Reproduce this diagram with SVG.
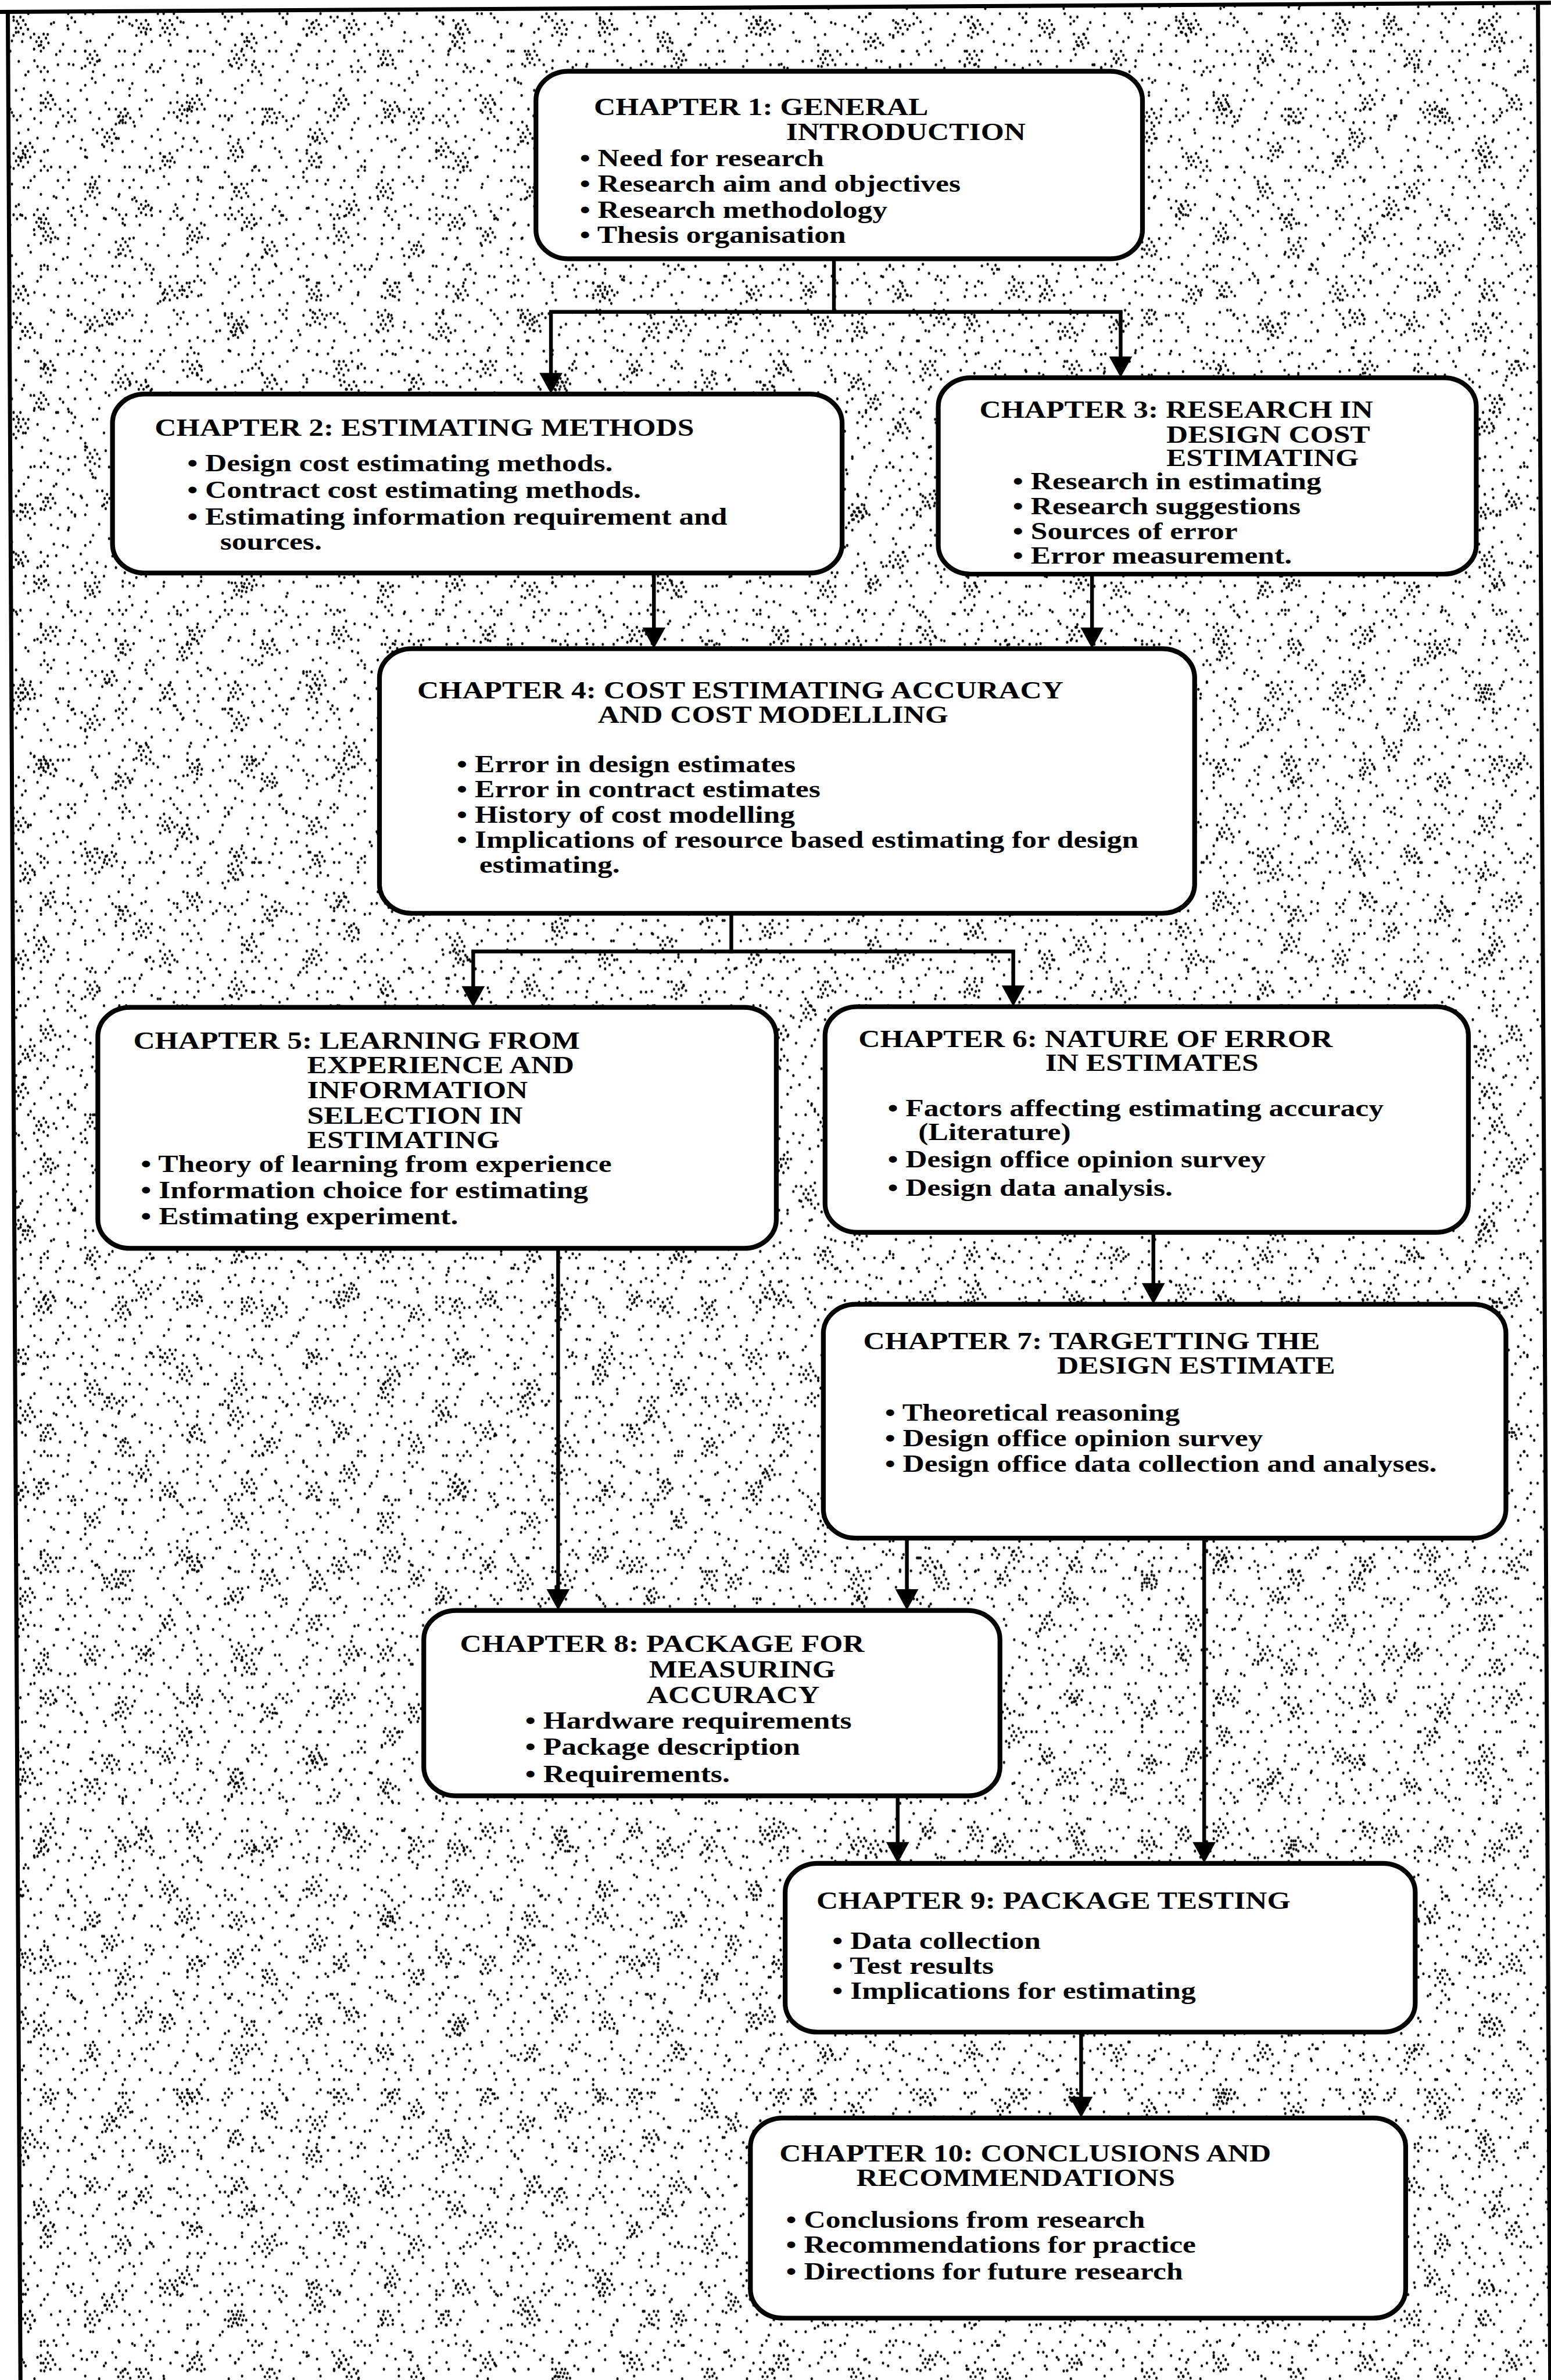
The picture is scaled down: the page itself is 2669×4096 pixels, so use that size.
<svg xmlns="http://www.w3.org/2000/svg" width="2669" height="4096" viewBox="0 0 2669 4096">
  <style>
    .box { fill: #fff; stroke: #000; stroke-width: 14; }
    .frame { fill: none; stroke: #000; stroke-width: 12; }
    .wire { fill: none; stroke: #000; stroke-width: 11; stroke-linecap: square; }
    .arrow { fill: none; stroke: #000; stroke-width: 11; marker-end: url(#head); }
    .t { font-family: "Liberation Serif", "Times New Roman", serif; font-weight: bold; font-size: 72px; fill: #000; }
  </style>
  <defs>
    <marker id="head" markerUnits="userSpaceOnUse" markerWidth="72" markerHeight="72" viewBox="-2 -34 62 68" refX="38" refY="0" orient="auto">
      <path d="M0,-32 L58,0 L0,32 Z" fill="#000"/>
    </marker>
    <!-- one dithered clump of stipple dots -->
    <g id="clump" fill="#000">
      <ellipse cx="0" cy="0" rx="3.5" ry="4.5"/><ellipse cx="14" cy="10" rx="3.5" ry="4.5"/>
      <ellipse cx="28" cy="0" rx="3.5" ry="4.5"/><ellipse cx="7" cy="22" rx="3.5" ry="4.5"/>
      <ellipse cx="21" cy="22" rx="3.5" ry="4.5"/><ellipse cx="35" cy="12" rx="3.5" ry="4.5"/>
      <ellipse cx="14" cy="34" rx="3.5" ry="4.5"/><ellipse cx="42" cy="26" rx="3.5" ry="4.5"/>
      <ellipse cx="0" cy="44" rx="3.5" ry="4.5"/><ellipse cx="28" cy="40" rx="3.5" ry="4.5"/>
    </g>
    <!-- scattered stipple: overlapping tiles of different sizes -->
    <pattern id="dotsA" patternUnits="userSpaceOnUse" width="190" height="170">
      <g fill="#000">
        <ellipse cx="12" cy="18" rx="3.5" ry="4.5"/><ellipse cx="47" cy="95" rx="3.5" ry="4.5"/>
        <ellipse cx="83" cy="40" rx="3.5" ry="4.5"/><ellipse cx="120" cy="132" rx="3.5" ry="4.5"/>
        <ellipse cx="158" cy="66" rx="3.5" ry="4.5"/><ellipse cx="30" cy="150" rx="3.5" ry="4.5"/>
        <ellipse cx="101" cy="8" rx="3.5" ry="4.5"/><ellipse cx="140" cy="101" rx="3.5" ry="4.5"/>
        <ellipse cx="176" cy="150" rx="3.5" ry="4.5"/><ellipse cx="65" cy="122" rx="3.5" ry="4.5"/>
        <ellipse cx="170" cy="20" rx="3.5" ry="4.5"/><ellipse cx="8" cy="75" rx="3.5" ry="4.5"/>
      </g>
    </pattern>
    <pattern id="dotsB" patternUnits="userSpaceOnUse" width="230" height="210">
      <g fill="#000">
        <ellipse cx="20" cy="40" rx="3.5" ry="4.5"/><ellipse cx="55" cy="180" rx="3.5" ry="4.5"/>
        <ellipse cx="90" cy="110" rx="3.5" ry="4.5"/><ellipse cx="130" cy="25" rx="3.5" ry="4.5"/>
        <ellipse cx="165" cy="160" rx="3.5" ry="4.5"/><ellipse cx="200" cy="85" rx="3.5" ry="4.5"/>
        <ellipse cx="35" cy="120" rx="3.5" ry="4.5"/><ellipse cx="110" cy="195" rx="3.5" ry="4.5"/>
        <ellipse cx="150" cy="70" rx="3.5" ry="4.5"/><ellipse cx="215" cy="190" rx="3.5" ry="4.5"/>
        <ellipse cx="75" cy="10" rx="3.5" ry="4.5"/><ellipse cx="185" cy="130" rx="3.5" ry="4.5"/>
        <ellipse cx="10" cy="200" rx="3.5" ry="4.5"/><ellipse cx="120" cy="150" rx="3.5" ry="4.5"/>
      </g>
    </pattern>
    <pattern id="dotsC" patternUnits="userSpaceOnUse" width="310" height="290">
      <g fill="#000">
        <ellipse cx="40" cy="50" rx="3.5" ry="4.5"/><ellipse cx="50" cy="62" rx="3.5" ry="4.5"/><ellipse cx="60" cy="50" rx="3.5" ry="4.5"/>
        <ellipse cx="200" cy="40" rx="3.5" ry="4.5"/><ellipse cx="210" cy="52" rx="3.5" ry="4.5"/><ellipse cx="220" cy="64" rx="3.5" ry="4.5"/>
        <ellipse cx="120" cy="210" rx="3.5" ry="4.5"/><ellipse cx="130" cy="198" rx="3.5" ry="4.5"/><ellipse cx="140" cy="210" rx="3.5" ry="4.5"/>
        <ellipse cx="270" cy="230" rx="3.5" ry="4.5"/><ellipse cx="280" cy="242" rx="3.5" ry="4.5"/>
        <ellipse cx="250" cy="150" rx="3.5" ry="4.5"/><ellipse cx="70" cy="260" rx="3.5" ry="4.5"/>
      </g>
    </pattern>
    <pattern id="dotsD" patternUnits="userSpaceOnUse" width="430" height="390">
      <use href="#clump" x="40" y="60"/><use href="#clump" x="250" y="150"/>
      <use href="#clump" x="120" y="280"/><use href="#clump" x="340" y="320"/>
    </pattern>
    <pattern id="dotsE" patternUnits="userSpaceOnUse" width="610" height="530">
      <use href="#clump" x="100" y="100"/><use href="#clump" x="400" y="60"/>
      <use href="#clump" x="300" y="380"/><use href="#clump" x="520" y="300"/>
      <use href="#clump" x="60" y="420"/>
    </pattern>
  </defs>

  <rect width="2669" height="4096" fill="#fff"/>

  <g transform="scale(0.58669)">
    <!-- stippled ground inside the frame -->
    <g id="ground">
      <path d="M23,34 L4511,8 L4547,6982 L60,6982 Z" fill="url(#dotsA)"/>
      <path d="M23,34 L4511,8 L4547,6982 L60,6982 Z" fill="url(#dotsB)"/>
      <path d="M23,34 L4511,8 L4547,6982 L60,6982 Z" fill="url(#dotsC)"/>
      <path d="M23,34 L4511,8 L4547,6982 L60,6982 Z" fill="url(#dotsD)"/>
      <path d="M23,34 L4511,8 L4547,6982 L60,6982 Z" fill="url(#dotsE)"/>
    </g>
    <g id="frame">
      <path class="frame" d="M0,35 L4549,8"/>
      <path class="frame" d="M23,34 L60,6982"/>
      <path class="frame" d="M4511,8 L4547,6982"/>
    </g>

    <!-- connectors -->
    <g id="connectors">
      <path class="wire" d="M2446,759 V915"/>
      <path class="wire" d="M1616,915 H3287"/>
      <path class="arrow" d="M1616,915 V1134"/>
      <path class="arrow" d="M3287,915 V1086"/>
      <path class="arrow" d="M1918,1681 V1881"/>
      <path class="arrow" d="M3203,1684 V1881"/>
      <path class="wire" d="M2145,2679 V2791"/>
      <path class="wire" d="M1388,2791 H2972"/>
      <path class="arrow" d="M1388,2791 V2933"/>
      <path class="arrow" d="M2972,2791 V2931"/>
      <path class="arrow" d="M3383,3615 V3804"/>
      <path class="arrow" d="M1637,3662 V4702"/>
      <path class="arrow" d="M2660,4512 V4702"/>
      <path class="arrow" d="M3532,4512 V5444"/>
      <path class="arrow" d="M2633,5268 V5444"/>
      <path class="arrow" d="M3171,5961 V6191"/>
    </g>

    <g id="ch1">
      <rect class="box" x="1572" y="209" width="1779" height="550" rx="95" ry="85"/>
      <text class="t" transform="translate(1742,0) scale(1.22,1)">
        <tspan x="0" y="337">CHAPTER 1: GENERAL</tspan>
        <tspan x="462" y="411">INTRODUCTION</tspan>
        <tspan x="-34" y="487">• Need for research</tspan>
        <tspan x="-34" y="563">• Research aim and objectives</tspan>
        <tspan x="-34" y="639">• Research methodology</tspan>
        <tspan x="-34" y="713">• Thesis organisation</tspan>
      </text>
    </g>

    <g id="ch2">
      <rect class="box" x="330" y="1156" width="2140" height="525" rx="95" ry="85"/>
      <text class="t" transform="translate(454,0) scale(1.22,1)">
        <tspan x="0" y="1278">CHAPTER 2: ESTIMATING METHODS</tspan>
        <tspan x="78" y="1382">• Design cost estimating methods.</tspan>
        <tspan x="78" y="1461">• Contract cost estimating methods.</tspan>
        <tspan x="78" y="1539">• Estimating information requirement and</tspan>
        <tspan x="157" y="1612">sources.</tspan>
      </text>
    </g>

    <g id="ch3">
      <rect class="box" x="2752" y="1108" width="1578" height="576" rx="95" ry="85"/>
      <text class="t" transform="translate(2873,0) scale(1.22,1)">
        <tspan x="0" y="1226">CHAPTER 3: RESEARCH IN</tspan>
        <tspan x="449" y="1298">DESIGN COST</tspan>
        <tspan x="449" y="1367">ESTIMATING</tspan>
        <tspan x="80" y="1435">• Research in estimating</tspan>
        <tspan x="80" y="1509">• Research suggestions</tspan>
        <tspan x="80" y="1581">• Sources of error</tspan>
        <tspan x="80" y="1653">• Error measurement.</tspan>
      </text>
    </g>

    <g id="ch4">
      <rect class="box" x="1113" y="1903" width="2391" height="776" rx="95" ry="85"/>
      <text class="t" transform="translate(1224,0) scale(1.22,1)">
        <tspan x="0" y="2048">CHAPTER 4: COST ESTIMATING ACCURACY</tspan>
        <tspan x="434" y="2121">AND COST MODELLING</tspan>
        <tspan x="95" y="2265">• Error in design estimates</tspan>
        <tspan x="95" y="2338">• Error in contract estimates</tspan>
        <tspan x="95" y="2414">• History of cost modelling</tspan>
        <tspan x="95" y="2487">• Implications of resource based estimating for design</tspan>
        <tspan x="149" y="2560">estimating.</tspan>
      </text>
    </g>

    <g id="ch5">
      <rect class="box" x="287" y="2955" width="1990" height="707" rx="95" ry="85"/>
      <text class="t" transform="translate(391,0) scale(1.22,1)">
        <tspan x="0" y="3077">CHAPTER 5: LEARNING FROM</tspan>
        <tspan x="418" y="3148">EXPERIENCE AND</tspan>
        <tspan x="418" y="3222">INFORMATION</tspan>
        <tspan x="418" y="3296">SELECTION IN</tspan>
        <tspan x="418" y="3368">ESTIMATING</tspan>
        <tspan x="18" y="3438">• Theory of learning from experience</tspan>
        <tspan x="18" y="3515">• Information choice for estimating</tspan>
        <tspan x="18" y="3591">• Estimating experiment.</tspan>
      </text>
    </g>

    <g id="ch6">
      <rect class="box" x="2420" y="2953" width="1887" height="662" rx="95" ry="85"/>
      <text class="t" transform="translate(2518,0) scale(1.22,1)">
        <tspan x="0" y="3071">CHAPTER 6: NATURE OF ERROR</tspan>
        <tspan x="449" y="3142">IN ESTIMATES</tspan>
        <tspan x="70" y="3275">• Factors affecting estimating accuracy</tspan>
        <tspan x="144" y="3345">(Literature)</tspan>
        <tspan x="70" y="3425">• Design office opinion survey</tspan>
        <tspan x="70" y="3507">• Design data analysis.</tspan>
      </text>
    </g>

    <g id="ch7">
      <rect class="box" x="2415" y="3826" width="2002" height="686" rx="95" ry="85"/>
      <text class="t" transform="translate(2532,0) scale(1.22,1)">
        <tspan x="0" y="3957">CHAPTER 7: TARGETTING THE</tspan>
        <tspan x="466" y="4030">DESIGN ESTIMATE</tspan>
        <tspan x="52" y="4167">• Theoretical reasoning</tspan>
        <tspan x="52" y="4242">• Design office opinion survey</tspan>
        <tspan x="52" y="4318">• Design office data collection and analyses.</tspan>
      </text>
    </g>

    <g id="ch8">
      <rect class="box" x="1243" y="4724" width="1690" height="544" rx="95" ry="85"/>
      <text class="t" transform="translate(1349,0) scale(1.22,1)">
        <tspan x="0" y="4845">CHAPTER 8: PACKAGE FOR</tspan>
        <tspan x="455" y="4920">MEASURING</tspan>
        <tspan x="449" y="4995">ACCURACY</tspan>
        <tspan x="157" y="5071">• Hardware requirements</tspan>
        <tspan x="157" y="5148">• Package description</tspan>
        <tspan x="157" y="5228">• Requirements.</tspan>
      </text>
    </g>

    <g id="ch9">
      <rect class="box" x="2303" y="5466" width="1848" height="495" rx="95" ry="85"/>
      <text class="t" transform="translate(2395,0) scale(1.22,1)">
        <tspan x="0" y="5599">CHAPTER 9: PACKAGE TESTING</tspan>
        <tspan x="38" y="5716">• Data collection</tspan>
        <tspan x="38" y="5790">• Test results</tspan>
        <tspan x="38" y="5864">• Implications for estimating</tspan>
      </text>
    </g>

    <g id="ch10">
      <rect class="box" x="2201" y="6213" width="1922" height="587" rx="95" ry="85"/>
      <text class="t" transform="translate(2286,0) scale(1.22,1)">
        <tspan x="0" y="6341">CHAPTER 10: CONCLUSIONS AND</tspan>
        <tspan x="185" y="6413">RECOMMENDATIONS</tspan>
        <tspan x="16" y="6535">• Conclusions from research</tspan>
        <tspan x="16" y="6609">• Recommendations for practice</tspan>
        <tspan x="16" y="6686">• Directions for future research</tspan>
      </text>
    </g>
  </g>
</svg>
